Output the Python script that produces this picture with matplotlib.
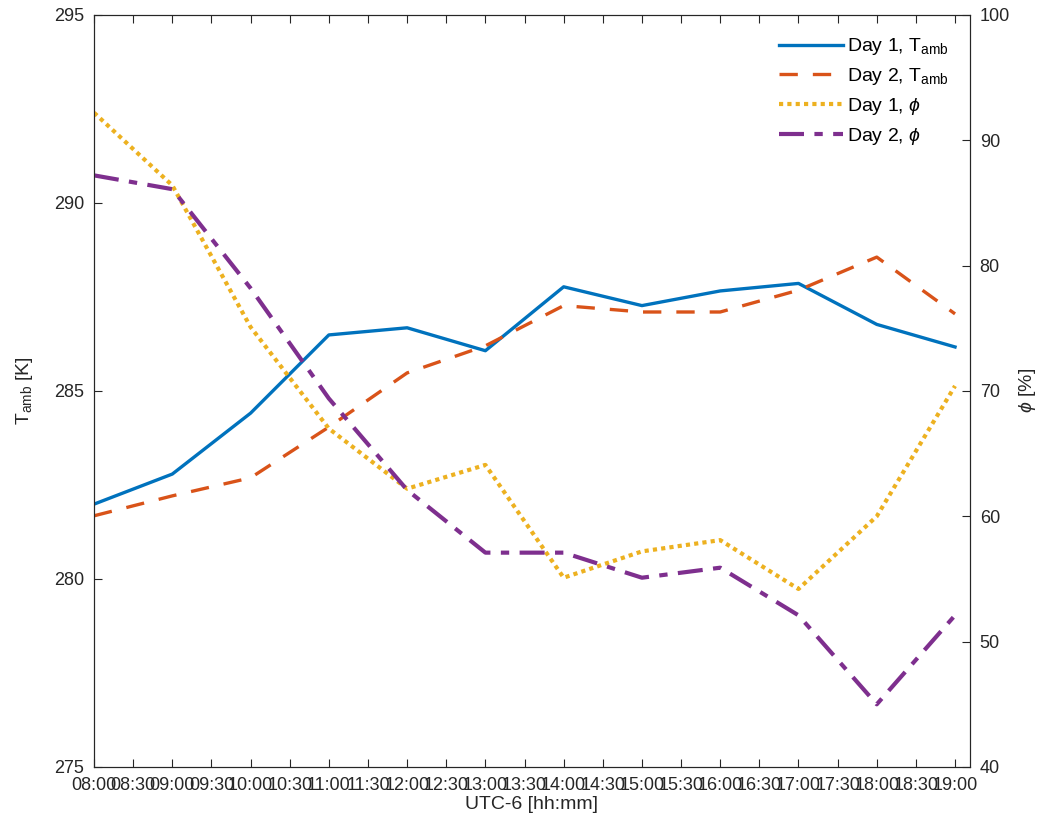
import matplotlib
matplotlib.use("Agg")
import matplotlib.pyplot as plt

plt.rcParams['font.family'] = ['Liberation Sans', 'DejaVu Sans']
plt.rcParams['mathtext.fontset'] = 'custom'
plt.rcParams['mathtext.rm'] = 'Liberation Sans'
plt.rcParams['mathtext.it'] = 'Liberation Sans:italic'

# hours since midnight (hourly samples)
hours = [8, 9, 10, 11, 12, 13, 14, 15, 16, 17, 18, 19]
tick_labels = ['08:00', '08:30', '09:00', '09:30', '10:00', '10:30', '11:00', '11:30',
               '12:00', '12:30', '13:00', '13:30', '14:00', '14:30', '15:00', '15:30',
               '16:00', '16:30', '17:00', '17:30', '18:00', '18:30', '19:00']

t_day1 = [281.99, 282.79, 284.41, 286.49, 286.68, 286.07, 287.77, 287.27, 287.66, 287.86, 286.77, 286.17]
t_day2 = [281.68, 282.21, 282.69, 284.04, 285.48, 286.2, 287.27, 287.1, 287.1, 287.68, 288.56, 287.05]
phi_day1 = [92.2, 86.4, 75.1, 67.0, 62.2, 64.1, 55.1, 57.2, 58.1, 54.2, 60.0, 70.4]
phi_day2 = [87.2, 86.1, 78.2, 69.4, 62.1, 57.1, 57.1, 55.1, 55.9, 52.1, 45.0, 52.1]

c_blue = '#0072BD'
c_red = '#D95319'
c_yel = '#EDB120'
c_pur = '#7E2F8E'

fig = plt.figure(figsize=(10.39, 8.21), dpi=100)
ax = fig.add_axes([0.0905, 0.0658, 0.843, 0.916])
ax2 = ax.twinx()

l1, = ax.plot(hours, t_day1, color=c_blue, lw=2.4, label='Day 1, T$_{\\rm amb}$')
l2, = ax.plot(hours, t_day2, color=c_red, lw=2.4, ls=(0, (5.5, 4.5)), label='Day 2, T$_{\\rm amb}$')
l3, = ax2.plot(hours, phi_day1, color=c_yel, lw=3, ls=(0, (1, 1)), label='Day 1, $\\phi$')
l4, = ax2.plot(hours, phi_day2, color=c_pur, lw=3, ls=(0, (6, 2.5, 2, 2.5)), label='Day 2, $\\phi$')

ax.set_xlim(8, 19.19)
ax.set_ylim(275, 295)
ax2.set_ylim(40, 100)
ax.set_xticks([8 + 0.5 * i for i in range(len(tick_labels))])
ax.set_xticklabels(tick_labels)
ax.set_yticks([275, 280, 285, 290, 295])
ax2.set_yticks([40, 50, 60, 70, 80, 90, 100])

for a in (ax, ax2):
    a.tick_params(direction='in', length=6, labelsize=13, colors='#262626', pad=7)
    for s in a.spines.values():
        s.set_color('#262626')
ax.tick_params(top=True)

ax.set_xlabel('UTC-6 [hh:mm]', fontsize=14, color='#262626', labelpad=2)
ax.set_ylabel('T$_{\\rm amb}$ [K]', fontsize=14, color='#262626', labelpad=14)
ax2.set_ylabel('$\\phi$ [%]', fontsize=14, color='#262626', labelpad=5)

ax.legend(handles=[l1, l2, l3, l4], loc='upper right', frameon=False, fontsize=14,
          handlelength=3.3, handletextpad=0.2, borderaxespad=0.7, labelspacing=0.45)

fig.savefig('out.png', dpi=100)
